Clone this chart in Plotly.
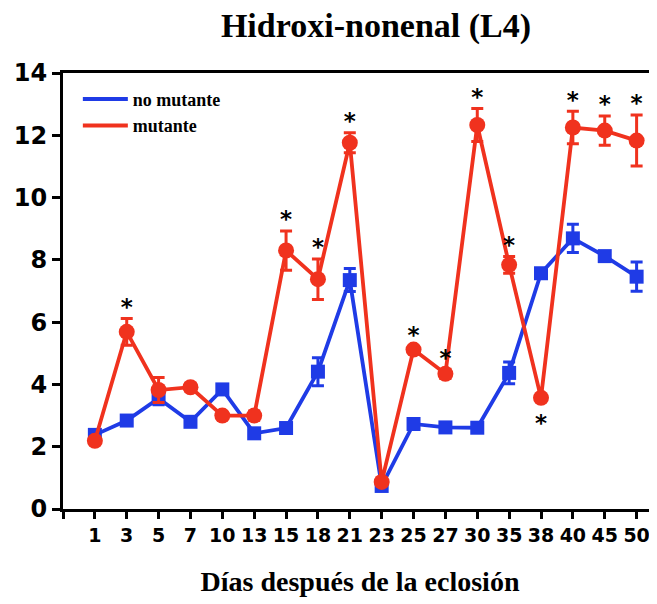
import plotly.graph_objects as go

# ---- data ----
days = ["1", "3", "5", "7", "10", "13", "15", "18", "21", "23",
        "25", "27", "30", "35", "38", "40", "45", "50"]
no_mutante = [2.38, 2.84, 3.55, 2.80, 3.84, 2.43, 2.60, 4.41, 7.35, 0.74,
              2.73, 2.62, 2.61, 4.37, 7.57, 8.69, 8.12, 7.46]
no_mutante_err = [0.10, 0.15, 0.20, 0.10, 0.15, 0.10, 0.10, 0.45, 0.37, 0.10,
                  0.08, 0.08, 0.08, 0.35, 0.10, 0.45, 0.10, 0.47]
mutante = [2.19, 5.69, 3.82, 3.91, 3.00, 3.00, 8.30, 7.38, 11.76, 0.87,
           5.12, 4.34, 12.33, 7.84, 3.57, 12.25, 12.15, 11.83]
mutante_err = [0.10, 0.43, 0.40, 0.12, 0.10, 0.15, 0.63, 0.65, 0.32, 0.10,
               0.10, 0.15, 0.53, 0.27, 0.10, 0.52, 0.47, 0.82]
# 1 = significant, asterisk above; -1 = significant, asterisk below; 0 = none
significance = [0, 1, 0, 0, 0, 0, 1, 1, 1, 0, 1, 1, 1, 1, -1, 1, 1, 1]
y_ticks = [0, 2, 4, 6, 8, 10, 12, 14]

BLUE = "#1f3be6"
RED = "#f0321e"

idx = list(range(len(days)))

# page body has an 8px margin, so the figure is sized to fit the 657x604 window
W, H = 649, 596

fig = go.Figure()

fig.add_trace(go.Scatter(
    x=idx, y=no_mutante, mode="lines+markers", showlegend=False,
    line=dict(color=BLUE, width=3.8),
    marker=dict(symbol="square", size=14, color=BLUE),
    error_y=dict(type="data", array=no_mutante_err, color=BLUE, thickness=3, width=6),
))
fig.add_trace(go.Scatter(
    x=idx, y=mutante, mode="lines+markers", showlegend=False,
    line=dict(color=RED, width=3.8),
    marker=dict(symbol="circle", size=16, color=RED),
    error_y=dict(type="data", array=mutante_err, color=RED, thickness=3, width=6),
))

# significance asterisks
sx, sy = [], []
for i, s in enumerate(significance):
    if s == 1:
        sx.append(i)
        sy.append(mutante[i] + mutante_err[i] + 0.30)
    elif s == -1:
        sx.append(i)
        sy.append(mutante[i] - mutante_err[i] - 0.78)
fig.add_trace(go.Scatter(
    x=sx, y=sy, mode="text", text=["*"] * len(sx), showlegend=False,
    textposition="middle center",
    textfont=dict(family="DejaVu Sans", size=23, color="black", weight="bold"),
    hoverinfo="skip",
))

# legend entries (line only)
fig.add_trace(go.Scatter(x=[None], y=[None], mode="lines", name="no mutante",
                         line=dict(color=BLUE, width=4)))
fig.add_trace(go.Scatter(x=[None], y=[None], mode="lines", name="mutante",
                         line=dict(color=RED, width=4)))

fig.update_layout(
    width=W, height=H,
    margin=dict(l=55, r=0, t=65, b=95),
    paper_bgcolor="white", plot_bgcolor="white",
    title=dict(text="<b>Hidroxi-nonenal (L4)</b>", x=368 / W, xanchor="center",
               y=1 - 17 / H, yanchor="middle",
               font=dict(family="Liberation Serif", size=34, color="black")),
    legend=dict(x=0.025, y=0.982, xanchor="left", yanchor="top",
                bgcolor="rgba(0,0,0,0)", tracegroupgap=0, itemwidth=45,
                font=dict(family="Liberation Serif", size=18, color="black", weight="bold")),
    showlegend=True,
)
fig.update_xaxes(
    range=[-1, 17.64], tickmode="array", tickvals=[-1] + idx, ticktext=[""] + days,
    showline=True, linecolor="black", linewidth=3, mirror=True,
    ticks="outside", ticklen=7, tickwidth=3, tickcolor="black",
    showgrid=False, zeroline=False,
    tickfont=dict(family="DejaVu Sans", size=19, color="black", weight="bold"),
    title=dict(text="<b>Días después de la eclosión</b>", standoff=27,
               font=dict(family="Liberation Serif", size=28, color="black")),
)
fig.update_yaxes(
    range=[0, 14], tickmode="array", tickvals=y_ticks,
    showline=True, linecolor="black", linewidth=3,
    ticks="outside", ticklen=8, tickwidth=3, tickcolor="black",
    showgrid=False, zeroline=False,
    tickfont=dict(family="DejaVu Sans", size=24, color="black", weight="bold"),
)

fig.write_html("out.html")
